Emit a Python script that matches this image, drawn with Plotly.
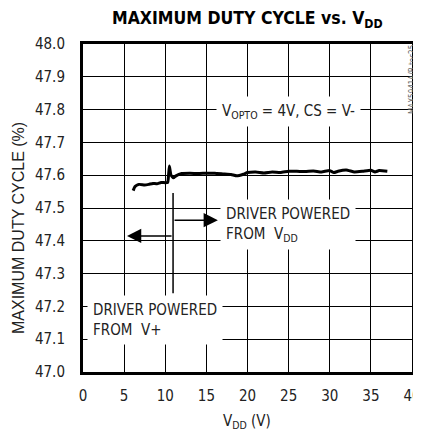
import plotly.graph_objects as go

vdd = [6.1, 6.3, 6.8, 7.5, 8.0, 8.5, 9.0, 9.5, 10.0, 10.3, 10.4, 10.5, 10.7, 11.0, 11.3, 12.0,
       13, 14, 15, 16, 17, 18, 18.7, 19.5, 20, 21, 22, 23, 24, 25, 26, 27, 28, 29, 30, 30.5,
       31, 32, 33, 34, 35, 35.5, 36, 37]
duty = [47.553, 47.565, 47.572, 47.570, 47.572, 47.575, 47.574, 47.578, 47.577, 47.578, 47.600,
        47.628, 47.600, 47.592, 47.598, 47.605, 47.606, 47.605, 47.606, 47.606, 47.604, 47.602,
        47.598, 47.603, 47.608, 47.610, 47.607, 47.610, 47.608, 47.612, 47.612, 47.611, 47.613,
        47.610, 47.614, 47.608, 47.612, 47.616, 47.610, 47.612, 47.615, 47.610, 47.614, 47.612]

x_ticks = [0, 5, 10, 15, 20, 25, 30, 35, 40]
y_ticks = [47.0, 47.1, 47.2, 47.3, 47.4, 47.5, 47.6, 47.7, 47.8, 47.9, 48.0]

FONT = "DejaVu Sans Condensed, DejaVu Sans, sans-serif"
FONT2 = "Liberation Sans, Arial, sans-serif"
TXT = "#222222"

# figure geometry (page body adds an 8px offset)
W, H = 413, 428
L, R, T, B = 75, 9, 36, 64
PW, PH = W - L - R, H - T - B


def px(xf):
    return (xf - L) / PW


def py(yf):
    return (H - B - yf) / PH


fig = go.Figure()
fig.add_trace(go.Scatter(x=vdd, y=duty, mode="lines",
                         line=dict(color="black", width=3, shape="spline", smoothing=0.4),
                         hoverinfo="skip"))

# vertical divider line
fig.add_shape(type="line", x0=10.95, x1=10.95, y0=47.24, y1=47.546,
              line=dict(color="black", width=1.5), xref="x", yref="y")

# arrows
fig.add_annotation(x=16.4, y=47.463, ax=10.95, ay=47.463, axref="x", ayref="y",
                   xref="x", yref="y", showarrow=True, arrowhead=2, arrowsize=1.9,
                   arrowwidth=1.5, arrowcolor="black", text="")
fig.add_annotation(x=5.35, y=47.415, ax=10.95, ay=47.415, axref="x", ayref="y",
                   xref="x", yref="y", showarrow=True, arrowhead=2, arrowsize=1.9,
                   arrowwidth=1.5, arrowcolor="black", text="")

# text labels
fig.add_annotation(x=16.6, y=47.451, xref="x", yref="y", xanchor="left", yanchor="middle",
                   text="DRIVER POWERED<br>FROM  V<sub>DD</sub>", showarrow=False, align="left",
                   font=dict(family=FONT, size=15, color=TXT), bgcolor="white", borderpad=5)
fig.add_annotation(x=0.5, y=47.16, xref="x", yref="y", xanchor="left", yanchor="middle",
                   text="DRIVER POWERED<br>FROM  V+", showarrow=False, align="left",
                   font=dict(family=FONT, size=15, color=TXT), bgcolor="white", borderpad=5)
fig.add_annotation(x=16.2, y=47.795, xref="x", yref="y", xanchor="left", yanchor="middle",
                   text="V<sub>OPTO</sub> = 4V, CS = V-", showarrow=False, align="left",
                   font=dict(family=FONT, size=15, color=TXT), bgcolor="white", borderpad=5)

# watermark
fig.add_annotation(x=px(411), y=py(35), xref="paper", yref="paper",
                   text="MAX5941A/B toc25", showarrow=False, textangle=-90,
                   font=dict(family=FONT, size=8, color="#666"))

# title
fig.add_annotation(x=px(239), y=py(11), xref="paper", yref="paper", xanchor="center",
                   yanchor="middle", showarrow=False,
                   text="<b>MAXIMUM DUTY CYCLE vs. V<sub>DD</sub></b>",
                   font=dict(family=FONT, size=17.5, color="black"))

# axis titles
fig.add_annotation(x=px(10), y=py(220), xref="paper", yref="paper", xanchor="center",
                   yanchor="middle", showarrow=False, textangle=-90,
                   text="MAXIMUM DUTY CYCLE (%)",
                   font=dict(family=FONT2, size=16, color=TXT))
fig.add_annotation(x=px(239), y=py(413), xref="paper", yref="paper", xanchor="center",
                   yanchor="middle", showarrow=False,
                   text="V<sub>DD</sub> (V)",
                   font=dict(family=FONT, size=15, color=TXT))

fig.update_layout(
    width=W, height=H,
    margin=dict(l=L, r=R, t=T, b=B, autoexpand=False),
    paper_bgcolor="white", plot_bgcolor="white",
    showlegend=False,
    font=dict(family=FONT, color=TXT),
)

fig.update_xaxes(range=[0, 40], tickvals=x_ticks, ticktext=[str(v) for v in x_ticks],
                 showgrid=True, gridcolor="black", gridwidth=1, automargin=False,
                 showline=True, linecolor="black", linewidth=3, mirror=True,
                 ticks="", zeroline=False, ticklabelstandoff=8,
                 tickfont=dict(family=FONT, size=15, color=TXT))
fig.update_yaxes(range=[47.0, 48.0], tickvals=y_ticks, ticktext=[f"{v:.1f}" for v in y_ticks],
                 showgrid=True, gridcolor="black", gridwidth=1, automargin=False,
                 showline=True, linecolor="black", linewidth=3, mirror=True,
                 ticks="", zeroline=False, ticklabelstandoff=12,
                 tickfont=dict(family=FONT, size=15, color=TXT))

fig.write_html("out.html")
